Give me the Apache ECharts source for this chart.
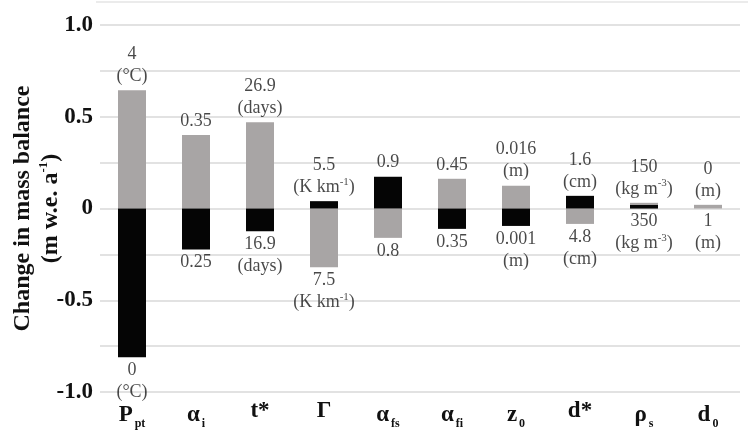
<!DOCTYPE html>
<html>
<head>
<meta charset="utf-8">
<script src="https://cdn.jsdelivr.net/npm/echarts@6/dist/echarts.min.js"></script>
<style>html,body{margin:0;padding:0;background:#fff}#c{width:748px;height:433px}</style>
</head>
<body>
<div id="c"></div>
<script>
// Categories (rich text names for subscripts)
const categories = ['P{sub|pt}', 'α{sub|i}', 't*', 'Γ', 'α{sub|fs}', 'α{sub|fi}', 'z{sub|0}', 'd*', 'ρ{sub|s}', 'd{sub|0}'];
// Grey series (change for upper parameter value)
const greyValues = [0.645, 0.40, 0.47, -0.32, -0.16, 0.162, 0.124, -0.084, 0.031, 0.02];
// Black series (change for lower parameter value)
const blackValues = [-0.81, -0.224, -0.124, 0.04, 0.173, -0.111, -0.095, 0.069, 0.019, 0];
// Annotation texts above / below bars
const topTexts = ['4\n(°C)', '0.35', '26.9\n(days)', '5.5\n(K km{sup|-1})', '0.9', '0.45', '0.016\n(m)', '1.6\n(cm)', '150\n(kg m{sup|-3})', '0\n(m)'];
const bottomTexts = ['0\n(°C)', '0.25', '16.9\n(days)', '7.5\n(K km{sup|-1})', '0.8', '0.35', '0.001\n(m)', '4.8\n(cm)', '350\n(kg m{sup|-3})', '1\n(m)'];
// Y tick labels
const yTickLabels = {'1': '1.0', '0.5': '0.5', '0': '0', '-0.5': '-0.5', '-1': '-1.0'};

const serif = '"Liberation Serif", "Times New Roman", serif';
const topEnds = greyValues.map((g, i) => Math.max(0, g, blackValues[i]));
const bottomEnds = greyValues.map((g, i) => Math.min(0, g, blackValues[i]));

const labelRich = {
  sup: {fontFamily: serif, fontSize: 11, verticalAlign: 'top', lineHeight: 22, padding: [0, 0, 6, 0], color: '#1a1a1a'}
};
const chart = echarts.init(document.getElementById('c'), null, {renderer: 'canvas'});
chart.setOption({
  animation: false,
  backgroundColor: '#fff',
  grid: {left: 100, right: 8, top: 25, bottom: 41, containLabel: false, outerBoundsMode: 'none'},
  graphic: [{type: 'line', shape: {x1: 96, y1: 2, x2: 748, y2: 2}, style: {stroke: '#e4e4e4', lineWidth: 1.5}}],
  xAxis: {
    type: 'category', data: categories,
    axisLine: {show: false}, axisTick: {show: false},
    axisLabel: {
      interval: 0, margin: 8, fontFamily: serif, fontWeight: 'bold', fontSize: 23, color: '#111',
      rich: {sub: {fontFamily: serif, fontWeight: 'bold', fontSize: 12, verticalAlign: 'bottom', padding: [18, 0, 0, 2], color: '#111'}}
    }
  },
  yAxis: {
    type: 'value', min: -1, max: 1, interval: 0.5,
    name: 'Change in mass balance\n(m w.e. a{sup|-1})',
    nameLocation: 'middle', nameGap: 35, nameRotate: 90, nameMoveOverlap: false,
    nameTextStyle: {fontFamily: serif, fontWeight: 'bold', fontSize: 24, color: '#111', lineHeight: 28,
      rich: {sup: {fontFamily: serif, fontWeight: 'bold', fontSize: 13, verticalAlign: 'top', padding: [0, 0, 8, 0], color: '#111'}}},
    axisLine: {show: false}, axisTick: {show: false},
    splitLine: {lineStyle: {color: '#d9d9d9', width: 1.5}},
    minorTick: {show: false, splitNumber: 2},
    minorSplitLine: {show: true, lineStyle: {color: '#d9d9d9', width: 1.5}},
    axisLabel: {
      margin: 7, fontFamily: serif, fontWeight: 'bold', fontSize: 23, color: '#111',
      formatter: v => { const k = String(Math.round(v * 100) / 100); return yTickLabels[k] !== undefined ? yTickLabels[k] : ''; }
    }
  },
  series: [
    {type: 'bar', name: 'grey', data: greyValues, barWidth: 28, barGap: '-100%', itemStyle: {color: '#a8a5a5'}, z: 2},
    {type: 'bar', name: 'black', data: blackValues, barWidth: 28, barGap: '-100%', itemStyle: {color: '#050505'}, z: 3},
    {type: 'scatter', data: topEnds, symbolSize: 0, z: 5,
      label: {show: true, position: 'top', distance: 3, fontFamily: serif, fontSize: 18, lineHeight: 22, color: '#1a1a1a', align: 'center',
        formatter: p => topTexts[p.dataIndex], rich: labelRich}},
    {type: 'scatter', data: bottomEnds, symbolSize: 0, z: 5,
      label: {show: true, position: 'bottom', distance: 2, fontFamily: serif, fontSize: 18, lineHeight: 22, color: '#1a1a1a', align: 'center',
        formatter: p => bottomTexts[p.dataIndex], rich: labelRich}}
  ]
});
</script>
</body>
</html>
